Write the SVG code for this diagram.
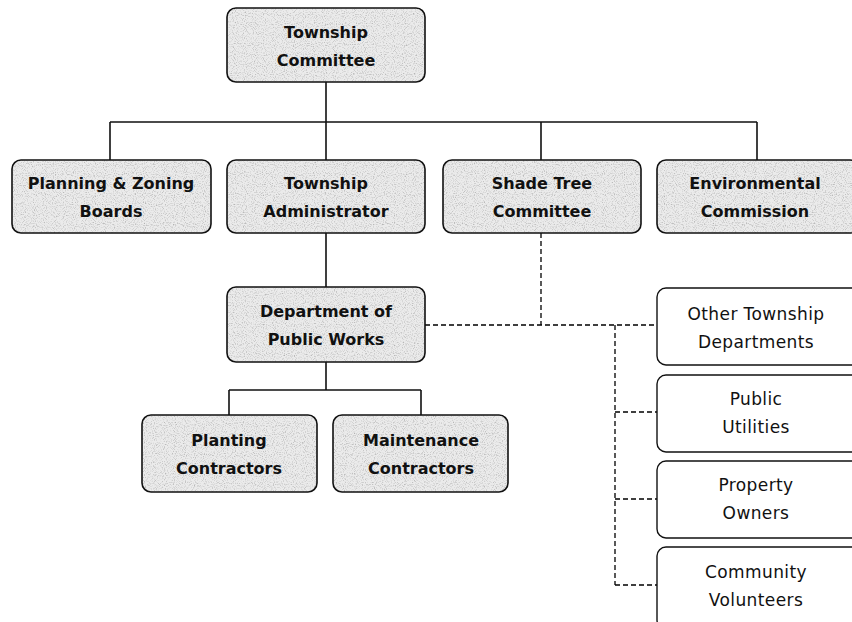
<svg xmlns="http://www.w3.org/2000/svg" width="852" height="622" viewBox="0 0 852 622">
<style>
.box{fill:#ebebeb;stroke:none}
.frame{fill:none;stroke:#111;stroke-width:1.6}
.wbox{fill:#fff;stroke:#111;stroke-width:1.4}
.t{font-family:"DejaVu Sans","Liberation Sans",sans-serif;font-size:16px;font-weight:bold;fill:#111;text-anchor:middle}
.tr{font-family:"DejaVu Sans","Liberation Sans",sans-serif;font-size:17px;letter-spacing:0.4px;fill:#111;text-anchor:middle}
.solid{fill:none;stroke:#111;stroke-width:1.6}
.dash{fill:none;stroke:#000;stroke-width:1.3;stroke-dasharray:5 3}
</style>
<defs>
<filter id="stip" x="0" y="0" width="100%" height="100%">
<feTurbulence type="fractalNoise" baseFrequency="0.9" numOctaves="1" seed="7" result="n"/>
<feColorMatrix in="n" type="matrix" values="0 0 0 0 0.45  0 0 0 0 0.45  0 0 0 0 0.45  3 0 0 0 -1.45" result="dots"/>
<feComposite in="dots" in2="SourceGraphic" operator="in" result="d2"/>
<feMerge><feMergeNode in="SourceGraphic"/><feMergeNode in="d2"/></feMerge>
</filter>
</defs>
<rect width="852" height="622" fill="#fff"/>
<g id="connectors">
<path class="solid" d="M326,82 V122 M110,122 H757 M110,122 V160 M326,122 V160 M541,122 V160 M757,122 V160 M326,233 V287 M326,362 V390 M229,390 H421 M229,390 V415 M421,390 V415"/>
<path class="dash" d="M541,233 V325 M425,325 H657 M615,325 V585 M615,412 H657 M615,499 H657 M615,585 H657"/>
</g>
<g id="township-committee">
<rect class="box" filter="url(#stip)" x="227" y="8" width="198" height="74" rx="9"/>
<rect class="frame" x="227" y="8" width="198" height="74" rx="9"/>
<text class="t" x="326" y="38">Township</text>
<text class="t" x="326" y="66">Committee</text>
</g>
<g id="planning-zoning">
<rect class="box" filter="url(#stip)" x="12" y="160" width="199" height="73" rx="9"/>
<rect class="frame" x="12" y="160" width="199" height="73" rx="9"/>
<text class="t" x="111" y="189">Planning &amp; Zoning</text>
<text class="t" x="111" y="217">Boards</text>
</g>
<g id="township-administrator">
<rect class="box" filter="url(#stip)" x="227" y="160" width="198" height="73" rx="9"/>
<rect class="frame" x="227" y="160" width="198" height="73" rx="9"/>
<text class="t" x="326" y="189">Township</text>
<text class="t" x="326" y="217">Administrator</text>
</g>
<g id="shade-tree">
<rect class="box" filter="url(#stip)" x="443" y="160" width="198" height="73" rx="9"/>
<rect class="frame" x="443" y="160" width="198" height="73" rx="9"/>
<text class="t" x="542" y="189">Shade Tree</text>
<text class="t" x="542" y="217">Committee</text>
</g>
<g id="environmental">
<rect class="box" filter="url(#stip)" x="657" y="160" width="202" height="73" rx="9"/>
<rect class="frame" x="657" y="160" width="202" height="73" rx="9"/>
<text class="t" x="755" y="189">Environmental</text>
<text class="t" x="755" y="217">Commission</text>
</g>
<g id="dpw">
<rect class="box" filter="url(#stip)" x="227" y="287" width="198" height="75" rx="9"/>
<rect class="frame" x="227" y="287" width="198" height="75" rx="9"/>
<text class="t" x="326" y="317">Department of</text>
<text class="t" x="326" y="345">Public Works</text>
</g>
<g id="planting">
<rect class="box" filter="url(#stip)" x="142" y="415" width="175" height="77" rx="9"/>
<rect class="frame" x="142" y="415" width="175" height="77" rx="9"/>
<text class="t" x="229" y="446">Planting</text>
<text class="t" x="229" y="474">Contractors</text>
</g>
<g id="maintenance">
<rect class="box" filter="url(#stip)" x="333" y="415" width="175" height="77" rx="9"/>
<rect class="frame" x="333" y="415" width="175" height="77" rx="9"/>
<text class="t" x="421" y="446">Maintenance</text>
<text class="t" x="421" y="474">Contractors</text>
</g>
<g id="other-departments">
<rect class="wbox" x="657" y="288" width="204" height="77" rx="9"/>
<text class="tr" x="756" y="320">Other Township</text>
<text class="tr" x="756" y="348">Departments</text>
</g>
<g id="public-utilities">
<rect class="wbox" x="657" y="375" width="204" height="77" rx="9"/>
<text class="tr" x="756" y="405">Public</text>
<text class="tr" x="756" y="433">Utilities</text>
</g>
<g id="property-owners">
<rect class="wbox" x="657" y="461" width="204" height="77" rx="9"/>
<text class="tr" x="756" y="491">Property</text>
<text class="tr" x="756" y="519">Owners</text>
</g>
<g id="community-volunteers">
<rect class="wbox" x="657" y="547" width="204" height="82" rx="9"/>
<text class="tr" x="756" y="578">Community</text>
<text class="tr" x="756" y="606">Volunteers</text>
</g>
</svg>
